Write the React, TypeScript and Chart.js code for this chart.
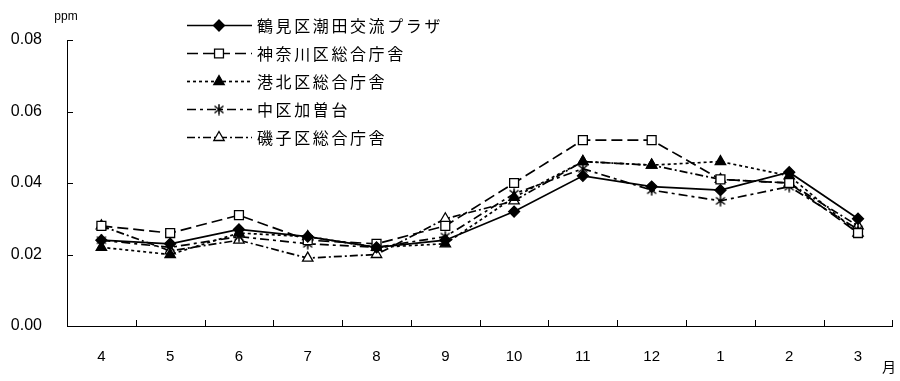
import React, { useEffect, useRef } from 'react';
import { Chart, registerables } from 'chart.js';

Chart.register(...registerables);

const months = ['4', '5', '6', '7', '8', '9', '10', '11', '12', '1', '2', '3'];
const yTicks = [0, 0.02, 0.04, 0.06, 0.08];
const seriesNames = ['鶴見区潮田交流プラザ', '神奈川区総合庁舎', '港北区総合庁舎', '中区加曽台', '磯子区総合庁舎'];

const tsurumi = [0.024, 0.023, 0.027, 0.025, 0.022, 0.024, 0.032, 0.042, 0.039, 0.038, 0.043, 0.030];
const kanagawa = [0.028, 0.026, 0.031, 0.024, 0.023, 0.028, 0.040, 0.052, 0.052, 0.041, 0.040, 0.026];
const kohoku = [0.022, 0.020, 0.026, 0.025, 0.022, 0.023, 0.036, 0.046, 0.045, 0.046, 0.042, 0.026];
const naka = [0.024, 0.022, 0.025, 0.023, 0.022, 0.025, 0.037, 0.044, 0.038, 0.035, 0.039, 0.027];
const isogo = [0.028, 0.021, 0.024, 0.019, 0.020, 0.030, 0.035, 0.046, 0.045, 0.041, 0.040, 0.028];

const seriesValues = [tsurumi, kanagawa, kohoku, naka, isogo];

function makeAsterisk(): HTMLCanvasElement {
  const c = document.createElement('canvas');
  c.width = 12;
  c.height = 12;
  const g = c.getContext('2d')!;
  g.strokeStyle = '#000';
  g.lineWidth = 1.5;
  g.beginPath();
  g.moveTo(6, 0.5);
  g.lineTo(6, 11.5);
  g.moveTo(1.5, 2.5);
  g.lineTo(10.5, 9.5);
  g.moveTo(10.5, 2.5);
  g.lineTo(1.5, 9.5);
  g.stroke();
  return c;
}

type Sty = { dash: number[]; marker: string; fill: string; radius: number };
const styles: Sty[] = [
  { dash: [], marker: 'rectRot', fill: '#000', radius: 5.5 },
  { dash: [11, 5], marker: 'rect', fill: '#fff', radius: 6.3 },
  { dash: [3, 3], marker: 'triangle', fill: '#000', radius: 6 },
  { dash: [9, 4, 3, 4], marker: 'asterisk', fill: '#000', radius: 5 },
  { dash: [8, 3, 2, 3], marker: 'triangle', fill: '#fff', radius: 6 },
];

function drawMarker(ctx: CanvasRenderingContext2D, s: Sty, x: number, y: number, ast: HTMLCanvasElement) {
  ctx.save();
  ctx.setLineDash([]);
  ctx.lineWidth = 1.3;
  ctx.strokeStyle = '#000';
  ctx.fillStyle = s.fill;
  const r = s.radius;
  ctx.beginPath();
  if (s.marker === 'rectRot') {
    ctx.moveTo(x, y - r);
    ctx.lineTo(x + r, y);
    ctx.lineTo(x, y + r);
    ctx.lineTo(x - r, y);
    ctx.closePath();
    ctx.fill();
    ctx.stroke();
  } else if (s.marker === 'rect') {
    const h = r * Math.SQRT1_2;
    ctx.rect(x - h, y - h, 2 * h, 2 * h);
    ctx.fill();
    ctx.stroke();
  } else if (s.marker === 'triangle') {
    const w = r * Math.sqrt(3) / 2;
    ctx.moveTo(x, y - r);
    ctx.lineTo(x + w, y + r / 2);
    ctx.lineTo(x - w, y + r / 2);
    ctx.closePath();
    ctx.fill();
    ctx.stroke();
  } else if (s.marker === 'asterisk') {
    ctx.drawImage(ast, x - ast.width / 2, y - ast.height / 2);
  }
  ctx.restore();
}

export default function App() {
  const ref = useRef<HTMLCanvasElement | null>(null);

  useEffect(() => {
    if (!ref.current) return;
    const ast = makeAsterisk();

    const datasets = seriesNames.map((name, i) => {
      const s = styles[i];
      return {
        label: name,
        data: seriesValues[i],
        borderColor: '#000',
        backgroundColor: s.fill,
        borderWidth: 1.7,
        borderDash: s.dash,
        pointStyle: s.marker === 'asterisk' ? (ast as any) : s.marker,
        pointRadius: s.radius,
        pointBackgroundColor: s.fill,
        pointBorderColor: '#000',
        pointBorderWidth: 1.3,
        tension: 0,
        fill: false,
      };
    });

    const overlay = {
      id: 'overlay',
      afterDraw(chart: any) {
        const ctx: CanvasRenderingContext2D = chart.ctx;
        const xs = chart.scales.x;
        const ys = chart.scales.y;
        ctx.save();
        ctx.strokeStyle = '#000';
        ctx.lineWidth = 1;
        ctx.setLineDash([]);
        yTicks.forEach((v) => {
          const py = Math.round(ys.getPixelForValue(v)) + 0.5;
          ctx.beginPath();
          ctx.moveTo(ys.right, py);
          ctx.lineTo(ys.right + 6, py);
          ctx.stroke();
        });
        for (let i = 0; i <= months.length; i++) {
          let px: number;
          if (i === 0) px = xs.left;
          else if (i === months.length) px = xs.right;
          else px = (xs.getPixelForValue(i - 1) + xs.getPixelForValue(i)) / 2;
          px = Math.round(px) + 0.5;
          ctx.beginPath();
          ctx.moveTo(px, xs.top);
          ctx.lineTo(px, xs.top - 6);
          ctx.stroke();
        }
        ctx.fillStyle = '#000';
        ctx.font = '12px "Liberation Sans", Arial, sans-serif';
        ctx.textAlign = 'center';
        ctx.textBaseline = 'middle';
        ctx.fillText('ppm', 66, 17);
        ctx.font = '14px "Noto Sans CJK JP", sans-serif';
        ctx.fillText('月', 889, 367);

        const lx0 = 187;
        const lx1 = 252;
        const mx = 219;
        const tx = 257;
        seriesNames.forEach((name, i) => {
          const s = styles[i];
          const y = 25 + 28 * i;
          ctx.save();
          ctx.lineWidth = 1.7;
          ctx.setLineDash(s.dash);
          ctx.beginPath();
          ctx.moveTo(lx0, y + 0.5);
          ctx.lineTo(lx1, y + 0.5);
          ctx.stroke();
          ctx.restore();
          drawMarker(ctx, s, mx, y + 0.5, ast);
          ctx.fillStyle = '#000';
          ctx.font = '16px "Noto Sans CJK JP", sans-serif';
          ctx.textAlign = 'left';
          ctx.textBaseline = 'middle';
          Array.from(name).forEach((ch, k) => {
            ctx.fillText(ch, tx + k * 18.6, y + 1);
          });
        });
        ctx.restore();
      },
    };

    const chart = new Chart(ref.current, {
      type: 'line',
      data: { labels: months, datasets: datasets as any },
      options: {
        animation: false,
        responsive: false,
        devicePixelRatio: 1,
        layout: { padding: { left: 0, top: 40, right: 4, bottom: 0 } },
        plugins: { legend: { display: false }, tooltip: { enabled: false } },
        scales: {
          x: {
            type: 'category',
            offset: true,
            grid: { display: true, drawOnChartArea: false, drawTicks: false, offset: true },
            border: { display: true, color: '#000', width: 1 },
            ticks: {
              color: '#000',
              font: { size: 15, family: '"Liberation Sans Narrow", "Liberation Sans", Arial, sans-serif' },
              padding: 22,
              maxRotation: 0,
              autoSkip: false,
            },
            afterFit: (s: any) => {
              s.height = 55;
            },
          },
          y: {
            min: 0,
            max: 0.08,
            grid: { display: true, drawOnChartArea: false, drawTicks: false },
            border: { display: true, color: '#000', width: 1 },
            ticks: {
              stepSize: 0.02,
              color: '#000',
              font: { size: 16, family: '"Liberation Sans", Arial, sans-serif' },
              padding: 25,
              callback: (v: any) => Number(v).toFixed(2),
            },
            afterFit: (s: any) => {
              s.width = 67;
            },
          },
        },
      },
      plugins: [overlay],
    });
    return () => chart.destroy();
  }, []);

  return (
    <div style={{ position: 'absolute', left: 0, top: 0, width: 900, height: 381, background: '#fff' }}>
      <canvas ref={ref} width={900} height={381} style={{ display: 'block' }} />
    </div>
  );
}
